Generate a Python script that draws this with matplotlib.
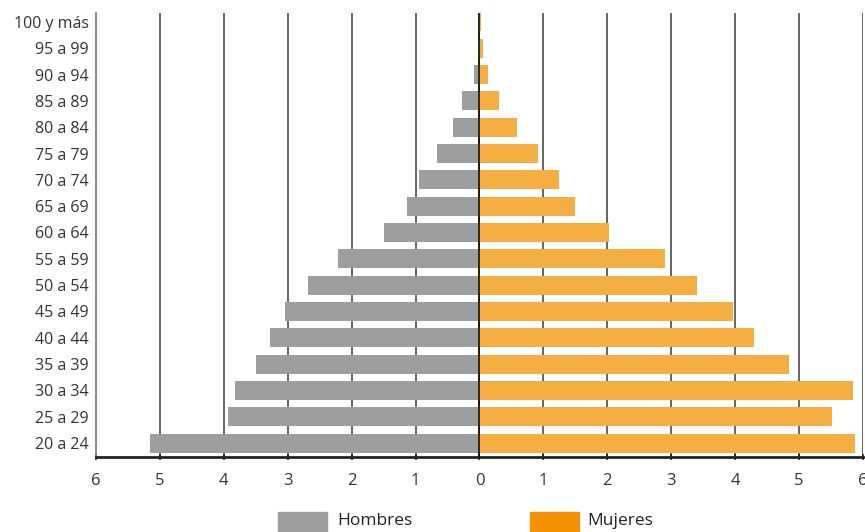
import matplotlib.pyplot as plt
from matplotlib.patches import Rectangle
import numpy as np

plt.rcParams['font.family'] = ['Open Sans', 'DejaVu Sans']

grupos = ['20 a 24', '25 a 29', '30 a 34', '35 a 39', '40 a 44', '45 a 49',
          '50 a 54', '55 a 59', '60 a 64', '65 a 69', '70 a 74', '75 a 79',
          '80 a 84', '85 a 89', '90 a 94', '95 a 99', '100 y más']
hombres = [5.16, 3.94, 3.83, 3.50, 3.27, 3.04, 2.69, 2.21, 1.49, 1.14,
           0.94, 0.67, 0.42, 0.28, 0.08, 0.02, 0.01]
mujeres = [5.88, 5.51, 5.85, 4.84, 4.29, 3.97, 3.40, 2.91, 2.02, 1.50,
           1.25, 0.92, 0.59, 0.31, 0.13, 0.06, 0.03]
xticks = list(range(-6, 7))
xlabels = [str(abs(t)) for t in xticks]

gris = '#9d9ea0'
naranja_barra = '#f4ae42'
naranja_ley = '#f39200'
texto = '#333333'

fig = plt.figure(figsize=(8.65, 5.32), dpi=100)
ax = fig.add_axes([96 / 865, 1 - 457 / 532, (863 - 96) / 865, (457 - 13) / 532])

y = np.arange(len(grupos))
ax.barh(y, [-h for h in hombres], height=0.72, color=gris, zorder=2)
ax.barh(y, mujeres, height=0.72, color=naranja_barra, zorder=2)

for t in xticks[1:]:
    ax.axvline(t, color='#4a4a4a', lw=1.2, zorder=1)
ax.axvline(0, color='#111111', lw=1.2, zorder=3)

ax.set_xlim(-6, 6)
ax.set_ylim(-0.53, 16.34)
ax.set_xticks(xticks)
ax.set_xticklabels(xlabels)
ax.set_yticks(y)
ax.set_yticklabels(grupos)

ax.tick_params(axis='y', length=0, pad=5, labelsize=11.5, labelcolor=texto)
ax.tick_params(axis='x', length=5, width=1.2, color='#222222', pad=9,
               labelsize=12, labelcolor=texto, direction='inout')

for s in ['top', 'right']:
    ax.spines[s].set_visible(False)
ax.spines['left'].set_color('#777777')
ax.spines['left'].set_linewidth(1.2)
ax.spines['bottom'].set_color('#222222')
ax.spines['bottom'].set_linewidth(2)

# leyenda
fig.add_artist(Rectangle((278 / 865, 0), 49 / 865, 20 / 532,
                         transform=fig.transFigure, color=gris))
fig.text(337 / 865, 1 - 521 / 532, 'Hombres', fontsize=12.5, color='#222222', va='center')
fig.add_artist(Rectangle((530 / 865, 0), 49 / 865, 20 / 532,
                         transform=fig.transFigure, color=naranja_ley))
fig.text(587 / 865, 1 - 521 / 532, 'Mujeres', fontsize=12.5, color='#222222', va='center')

fig.savefig('out.png', dpi=100)
